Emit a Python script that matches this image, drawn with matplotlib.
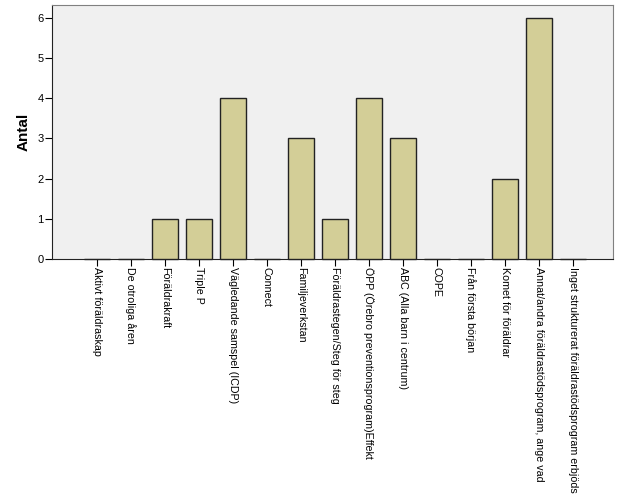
import numpy as np
import matplotlib.pyplot as plt

plt.rcParams['font.family'] = ['Liberation Sans', 'DejaVu Sans']

categories = [
    "Aktivt föräldraskap",
    "De otroliga åren",
    "Föräldrakraft",
    "Triple P",
    "Vägledande samspel (ICDP)",
    "Connect",
    "Familjeverkstan",
    "Föräldrastegen/Steg för steg",
    "ÖPP (Örebro preventionsprogram)Effekt",
    "ABC (Alla barn i centrum)",
    "COPE",
    "Från första början",
    "Komet för föräldrar",
    "Annat/andra föräldrastödsprogram, ange vad",
    "Inget strukturerat föräldrastödsprogram erbjöds",
]
counts = [0, 0, 1, 1, 4, 0, 3, 1, 4, 3, 0, 0, 2, 6, 0]

fig = plt.figure(figsize=(6.26, 5.01), dpi=100)
ax = fig.add_axes([52 / 626, 1 - 259 / 501, (613 - 52) / 626, (259 - 5) / 501])
ax.set_facecolor("#f0f0f0")

x = np.arange(len(categories))
ax.bar(x, counts, width=0.76, color="#d3ce97", edgecolor="#222222",
       linewidth=1, zorder=3, clip_on=False)

ax.set_xlim(-1.32, len(categories) - 1 + 1.18)
ax.set_ylim(0, 6.32)
ax.set_yticks(range(7))
ax.set_xticks(x)
ax.set_xticklabels(categories, rotation=270, ha="center", va="top", fontsize=7.7)
ax.tick_params(axis="y", labelsize=8, length=5, direction="out", pad=1)
ax.tick_params(axis="x", length=5, direction="out", pad=1)
ax.set_ylabel("Antal", fontsize=11, fontweight="bold", labelpad=5)

for s in ["top", "right"]:
    ax.spines[s].set_color("#808080")
for s in ["left", "bottom"]:
    ax.spines[s].set_color("#222222")

fig.savefig("out.png", dpi=100)
